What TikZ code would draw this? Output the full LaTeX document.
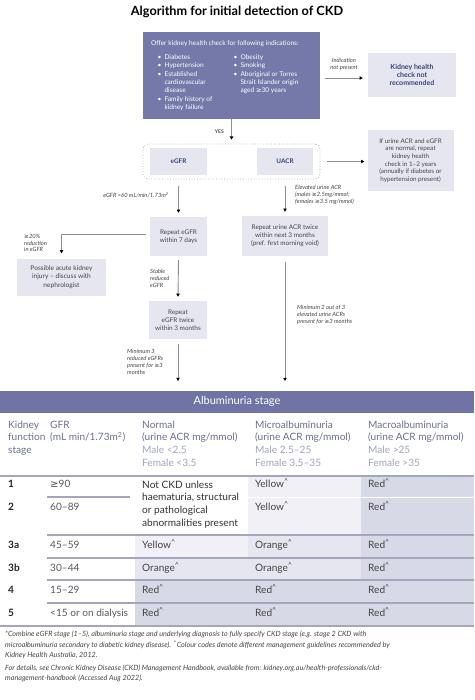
\documentclass[tikz,border=0pt]{standalone}
\usepackage{fontspec}
\setmainfont{Lato}
\newfontfamily\symfnt{DejaVu Sans}
\usetikzlibrary{arrows.meta,calc,positioning}
\definecolor{slate}{HTML}{7479A9}
\definecolor{barblue}{HTML}{6F74A5}
\definecolor{paleblue}{HTML}{E5E6F0}
\definecolor{navytxt}{HTML}{3A4478}
\definecolor{bodytxt}{HTML}{454545}
\definecolor{headtxt}{HTML}{6B6F91}
\definecolor{subtxt}{HTML}{A2A5BE}
\definecolor{rulegray}{HTML}{A4A6BD}
\definecolor{arrgray}{HTML}{8E8E8E}
\definecolor{yelcell}{HTML}{F0F0F6}
\definecolor{orcell}{HTML}{E5E6EF}
\definecolor{redcell}{HTML}{D7D9E7}
\newcommand{\gq}{{\symfnt ≥}}
\newcommand{\colmark}{\textsuperscript{\textasciicircum}}
\tikzset{
	lightbox/.style={fill=paleblue, inner sep=0pt, align=center, text=bodytxt, font=\fontsize{6.4}{8}\selectfont},
	testbox/.style={lightbox, text=navytxt, font=\fontsize{6.4}{8}\selectfont\bfseries},
	flowarrow/.style={draw=arrgray, line width=0.9pt, -{Triangle[length=3.2pt,width=3.4pt,color=black]}},
	note/.style={inner sep=0pt, align=left, text=bodytxt, font=\fontsize{5.8}{6.9}\selectfont\itshape},
	colhead/.style={anchor=north west, inner sep=0pt, align=left, text=headtxt, font=\fontsize{10.1}{12.7}\selectfont},
	tcell/.style={anchor=west, inner sep=0pt, text height=7pt, text depth=2pt, text=bodytxt, font=\fontsize{10.1}{12.7}\selectfont},
	tstage/.style={tcell, text=black!85, font=\fontsize{10.1}{12.7}\selectfont\bfseries},
	trule/.style={draw=rulegray, line width=1.2pt},
}
\begin{document}
\begin{tikzpicture}[x=1pt,y=-1pt]
	\fill[white] (0,0) rectangle (474,700);
	\useasboundingbox (0,0) rectangle (474,700);
	\node[font=\fontsize{12.7}{14}\selectfont\bfseries] (title) at (237,12) {Algorithm for initial detection of CKD};

	\node[fill=slate, minimum width=177pt, minimum height=87pt, inner sep=0pt] (offer) at (231.5,75.5) {};
	\node[anchor=west, inner sep=0pt, text=white, font=\fontsize{6.6}{8.3}\selectfont] (offerhead) at (151,44) {Offer kidney health check for following indications:};
	\node[anchor=north west, inner sep=0pt, text=white, font=\fontsize{6.6}{8.3}\selectfont] (offerleft) at (157.5,53.5) {%
		\begin{tabular}{@{}l@{\hspace{3pt}}l@{}}
			• & Diabetes\\
			• & Hypertension\\
			• & Established\\
			  & cardiovascular\\
			  & disease\\
			• & Family history of\\
			  & kidney failure
		\end{tabular}};
	\node[anchor=north west, inner sep=0pt, text=white, font=\fontsize{6.6}{8.3}\selectfont] (offerright) at (233.5,53.5) {%
		\begin{tabular}{@{}l@{\hspace{3pt}}l@{}}
			• & Obesity\\
			• & Smoking\\
			• & Aboriginal or Torres\\
			  & Strait Islander origin\\
			  & aged \gq30 years
		\end{tabular}};

	\node[testbox, minimum width=88pt, minimum height=44pt, font=\fontsize{7}{8}\selectfont\bfseries] (notrec) at (412,75) {Kidney health\\check not\\recommended};
	\draw[flowarrow] ($(offer.east)+(5,2.5)$) -- ($(offer.east -| notrec.west)+(-5,2.5)$);
	\node[note, align=center, anchor=south] (indlbl) at (344,71) {Indication\\not present};

	\node[draw=gray!70, dotted, line width=0.7pt, rounded corners=5pt, minimum width=177pt, minimum height=35pt, inner sep=0pt] (tests) at (231.5,161.5) {};
	\node[testbox, minimum width=57pt, minimum height=27pt] (egfr) at (178.5,161.5) {eGFR};
	\node[testbox, minimum width=56pt, minimum height=27pt] (uacr) at (285,161.5) {UACR};
	\draw[flowarrow] (offer.south) -- ($(tests.north)+(0,-4)$);
	\node[note, font=\fontsize{5}{6}\selectfont\bfseries, anchor=east] (yes) at (224,132) {YES};

	\node[lightbox, minimum width=86pt, minimum height=61pt, font=\fontsize{6.3}{7.6}\selectfont] (recheck) at (410.5,160.5) {If urine ACR and eGFR\\are normal, repeat\\kidney health\\check in 1--2 years\\(annually if diabetes or\\hypertension present)};
	\draw[flowarrow] ($(tests.east)+(7,0)$) -- ($(tests.east -| recheck.west)+(-3,0)$);

	\node[lightbox, minimum width=57pt, minimum height=39pt] (rep7) at (178.5,236.5) {Repeat eGFR\\within 7 days};
	\node[lightbox, minimum width=86pt, minimum height=40pt] (repacr) at (285,236) {Repeat urine ACR twice\\within next 3 months\\(pref. first morning void)};
	\draw[flowarrow] ($(egfr.south |- tests.south)+(0,7)$) -- ($(rep7.north)+(0,-4)$);
	\node[note, anchor=east] (egfrlbl) at (169,195) {eGFR <60 mL/min/1.73m\textsuperscript{2}};
	\draw[flowarrow] ($(uacr.south |- tests.south)+(0,7)$) -- ($(repacr.north)+(0,-4)$);
	\node[note, anchor=west] (uacrlbl) at (295,195) {Elevated urine ACR\\(males \gq2.5mg/mmol;\\females \gq3.5 mg/mmol)};

	\node[lightbox, minimum width=89pt, minimum height=37pt, font=\fontsize{6.6}{8.5}\selectfont] (aki) at (61.5,277) {Possible acute kidney\\injury -- discuss with\\nephrologist};
	\draw[flowarrow] ($(rep7.west)+(-4,-2)$) -| ($(aki.north)+(0,-5)$);
	\node[note, anchor=west] (drop) at (24,243) {\gq20\%\\reduction\\in eGFR};

	\node[lightbox, minimum width=58pt, minimum height=38pt] (rep3m) at (178,320) {Repeat\\eGFR twice\\within 3 months};
	\draw[flowarrow] ($(rep7.south)+(0,4)$) -- ($(rep3m.north)+(0,-4)$);
	\node[note, anchor=west] (stable) at (150,278) {Stable\\reduced\\eGFR};
	\coordinate (egfrend) at (178,381);
	\coordinate (acrend) at (285,381);
	\draw[flowarrow] ($(rep3m.south)+(0,5)$) -- (egfrend);
	\node[note, anchor=west] (min3) at (127,362) {Minimum 3\\reduced eGFRs\\present for \gq3\\months};
	\draw[flowarrow] ($(repacr.south)+(0,6)$) -- (acrend);
	\node[note, anchor=west] (min2) at (297,314.5) {Minimum 2 out of 3\\elevated urine ACRs\\present for \gq3 months};

	\node[fill=barblue, minimum width=474pt, minimum height=21.5pt, inner sep=0pt, text=white, font=\fontsize{11}{12}\selectfont] (albbar) at (237,401.75) {Albuminuria stage};
	\node[colhead] (hstage) at (8,420.5) {Kidney\\function\\stage};
	\node[colhead] (hgfr) at (50,420.5) {GFR\\(mL min/1.73m\textsuperscript{2})};
	\node[colhead] (hnorm) at (142,420.5) {Normal\\(urine ACR mg/mmol)\\\textcolor{subtxt}{Male <2.5}\\\textcolor{subtxt}{Female <3.5}};
	\node[colhead] (hmicro) at (255,420.5) {Microalbuminuria\\(urine ACR mg/mmol)\\\textcolor{subtxt}{Male 2.5--25}\\\textcolor{subtxt}{Female 3.5--35}};
	\node[colhead] (hmacro) at (368,420.5) {Macroalbuminuria\\(urine ACR mg/mmol)\\\textcolor{subtxt}{Male >25}\\\textcolor{subtxt}{Female >35}};

	\fill[yelcell] (248,476) rectangle (361,535);
	\fill[redcell] (361,476) rectangle (474,626);
	\fill[yelcell] (135,535) rectangle (248,558);
	\fill[orcell] (248,535) rectangle (361,580);
	\fill[orcell] (135,558) rectangle (248,580);
	\fill[redcell] (135,580) rectangle (361,626);
	\draw[trule] (0,476) -- (474,476);
	\draw[trule] (47,497) -- (130,497);
	\draw[white, line width=1pt] (248,497) -- (474,497);
	\foreach \ry in {535,558,580,603}
		\draw[trule] (47,\ry) -- (474,\ry);
	\draw[trule] (0,626) -- (474,626);

	\foreach \st/\gfr/\ry in {1/{\gq90}/485, 2/60--89/508, 3a/45--59/546, 3b/30--44/569, 4/15--29/591, 5/{<15 or on dialysis}/614} {
		\node[tstage] (stage\st) at (8,\ry) {\st};
		\node[tcell, text=black!65] (gfr\st) at (50,\ry) {\gfr};
	}
	\node[anchor=north west, inner sep=0pt, align=left, text=black!80, font=\fontsize{10.1}{12.7}\selectfont] (notckd) at (142,480.5) {Not CKD unless\\haematuria, structural\\or pathological\\abnormalities present};
	\node[tcell] (micro1) at (255,485) {Yellow\colmark};
	\node[tcell] (macro1) at (368,485) {Red\colmark};
	\node[tcell] (micro2) at (255,508) {Yellow\colmark};
	\node[tcell] (macro2) at (368,508) {Red\colmark};
	\foreach \st/\nc/\mc/\ry in {3a/Yellow/Orange/546, 3b/Orange/Orange/569, 4/Red/Red/591, 5/Red/Red/614} {
		\node[tcell] (norm\st) at (142,\ry) {\nc\colmark};
		\node[tcell] (micro\st) at (255,\ry) {\mc\colmark};
		\node[tcell] (macro\st) at (368,\ry) {Red\colmark};
	}

	\node[anchor=north west, inner sep=0pt, align=left, text=bodytxt, font=\fontsize{7.2}{10.8}\selectfont\itshape] (notes) at (5,630.5) {*Combine eGFR stage (1--5), albuminuria stage and underlying diagnosis to fully specify CKD stage (e.g. stage 2 CKD with\\microalbuminuria secondary to diabetic kidney disease). \colmark Colour codes denote different management guidelines recommended by\\Kidney Health Australia, 2012.\\[1.5pt]For details, see Chronic Kidney Disease (CKD) Management Handbook, available from: kidney.org.au/health-professionals/ckd-\\management-handbook (Accessed Aug 2022).};
\end{tikzpicture}
\end{document}
